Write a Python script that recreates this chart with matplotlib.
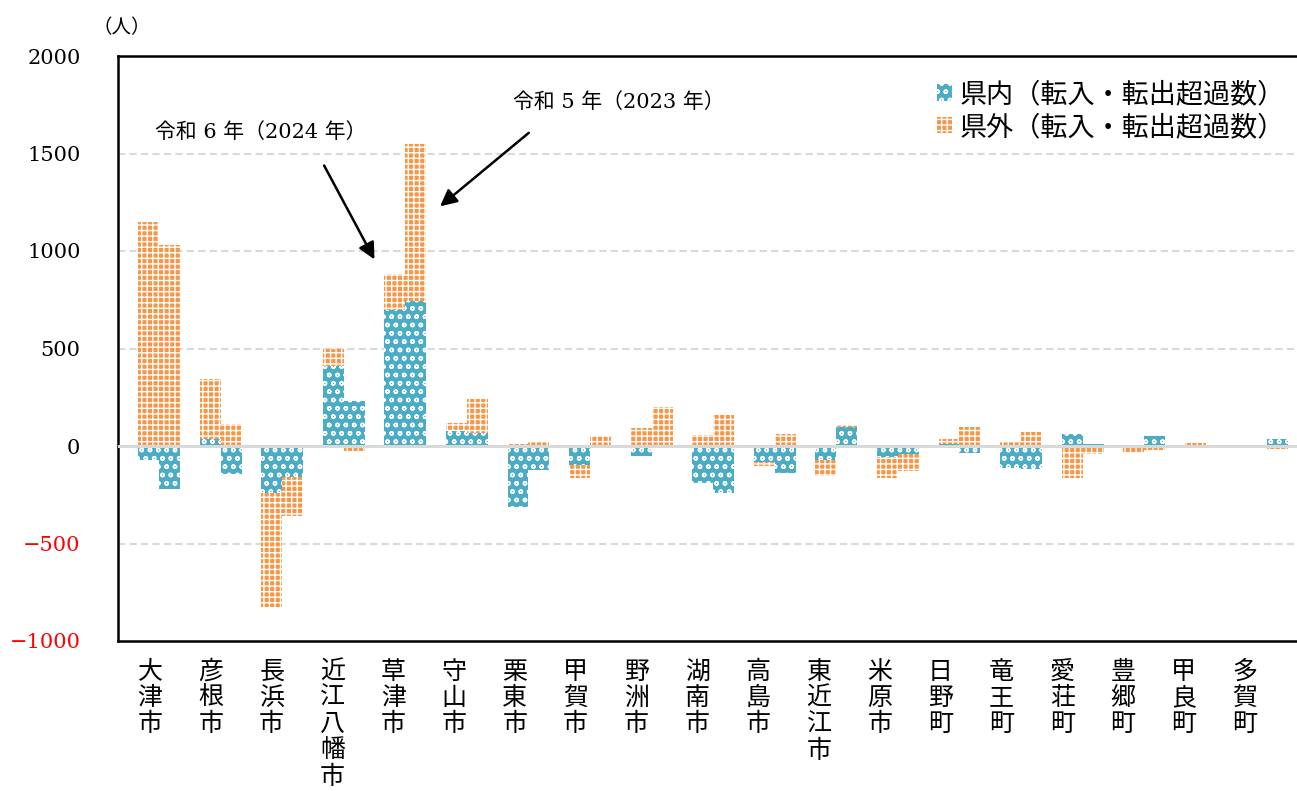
import numpy as np
import matplotlib.pyplot as plt
import matplotlib.transforms as mtransforms
from matplotlib.patches import Patch

municipalities = [
    "大津市", "彦根市", "長浜市", "近江八幡市", "草津市", "守山市", "栗東市",
    "甲賀市", "野洲市", "湖南市", "高島市", "東近江市", "米原市", "日野町",
    "竜王町", "愛荘町", "豊郷町", "甲良町", "多賀町",
]

# 令和6年（2024年）
inside_2024 = [-70, 35, -240, 410, 700, 77, -315, -95, -50, -190, -80, -70,
               -55, 12, -115, 60, 0, -5, 0]
outside_2024 = [1150, 310, -585, 90, 180, 40, 12, -70, 90, 55, -20, -85,
                -110, 23, 25, -165, -35, 14, -8]

# 令和5年（2023年）
inside_2023 = [-220, -145, -160, 230, 745, 65, -125, 0, 0, -240, -140, 95,
               -40, -38, -120, 8, 53, 0, 38]
outside_2023 = [1030, 113, -200, -25, 805, 175, 18, 50, 200, 160, 60, 12,
                -90, 97, 70, -40, -20, 0, -15]

yticks = [-1000, -500, 0, 500, 1000, 1500, 2000]

BLUE = "#4BACC6"
ORANGE = "#F79646"
GRID = "#D9D9D9"
CJK = "Noto Sans CJK JP"

plt.rcParams["font.family"] = ["DejaVu Serif", CJK]
plt.rcParams["hatch.linewidth"] = 1.0


def draw_pair(ax, x, inner, outer, width):
    inner = np.asarray(inner, dtype=float)
    outer = np.asarray(outer, dtype=float)
    ax.bar(x, inner, width, align="edge", color=BLUE, hatch="oo",
           edgecolor="white", linewidth=0, zorder=2)
    base = np.where(np.sign(outer) == np.sign(inner), inner, 0)
    ax.bar(x, outer, width, bottom=base, align="edge", color=ORANGE,
           hatch="+++", edgecolor="white", linewidth=0, zorder=2)


fig = plt.figure(figsize=(12.97, 7.91), dpi=100)
ax = fig.add_axes([118 / 1297, 1 - 641 / 791, (1300 - 118) / 1297, (641 - 56) / 791])

pos = np.arange(len(municipalities))
w = 0.34
draw_pair(ax, pos - w, inside_2024, outside_2024, w)
draw_pair(ax, pos, inside_2023, outside_2023, w)

for y in [-500, 500, 1000, 1500]:
    ax.axhline(y, color=GRID, lw=1.5, ls=(0, (3.5, 2)), zorder=0)
ax.axhline(0, color=GRID, lw=2.2, zorder=3)

ax.set_xlim(-0.666, 18.53)
ax.set_ylim(-1000, 2000)
ax.set_xticks([])
ax.set_yticks(yticks)
ax.set_yticklabels([str(v).replace("-", "\u2212") for v in yticks])
ax.tick_params(axis="y", length=0, pad=27, labelsize=15)
for lbl, v in zip(ax.get_yticklabels(), yticks):
    lbl.set_color("red" if v < 0 else "black")

for side in ["left", "top", "bottom"]:
    ax.spines[side].set_linewidth(1.8)
    ax.spines[side].set_color("black")
ax.spines["right"].set_visible(False)

# category labels written vertically
trans = mtransforms.blended_transform_factory(ax.transData, ax.transAxes)
for i, name in enumerate(municipalities):
    ax.text((i * 60.8 - 9) / 61.56, -0.03, "\n".join(name), transform=trans,
            ha="center", va="top", fontsize=18, family=CJK, linespacing=1.02)

fig.text(122 / 1297, 1 - 28 / 791, "（人）", ha="center", va="center",
         fontsize=14, family=CJK)

# annotations
ax.text(1.66, 1610, "令和 6 年（2024 年）", ha="center", va="center", fontsize=15)
ax.annotate("", xy=(3.52, 944), xytext=(2.66, 1451),
            arrowprops=dict(arrowstyle="-|>", color="black", lw=1.8, mutation_scale=25))
ax.text(7.46, 1764, "令和 5 年（2023 年）", ha="center", va="center", fontsize=15)
ax.annotate("", xy=(4.53, 1220), xytext=(6.04, 1615),
            arrowprops=dict(arrowstyle="-|>", color="black", lw=1.8, mutation_scale=25))

handles = [
    Patch(facecolor=BLUE, hatch="oo", edgecolor="white", linewidth=0),
    Patch(facecolor=ORANGE, hatch="+++", edgecolor="white", linewidth=0),
]
ax.legend(handles, ["県内（転入・転出超過数）", "県外（転入・転出超過数）"],
          loc="upper left", bbox_to_anchor=(918 / 1297, 1 - 62 / 791),
          bbox_transform=fig.transFigure, frameon=False, prop={"family": CJK, "size": 19.5},
          handlelength=0.55, handleheight=0.55, handletextpad=0.3, labelspacing=0.22,
          borderpad=0.2)

fig.savefig("out.png", dpi=100)
